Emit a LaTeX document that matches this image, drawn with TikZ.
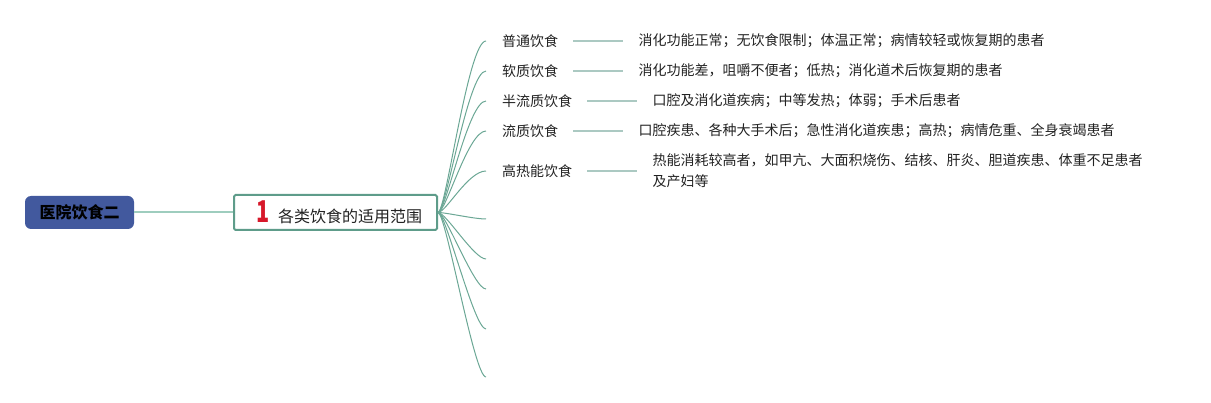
\documentclass[tikz,border=0pt]{standalone}
\usepackage{fontspec}
\setmainfont{Noto Sans CJK SC}
\usepackage{xcolor}
\usepackage{graphicx}
\usetikzlibrary{positioning}
\definecolor{rootblue}{HTML}{42599E}
\definecolor{topicteal}{HTML}{5E9C8A}
\definecolor{branchteal}{HTML}{6BA795}
\definecolor{rootline}{HTML}{9ECDBE}
\definecolor{leafline}{HTML}{ABC9C2}
\definecolor{numred}{HTML}{D7182A}
\definecolor{inktext}{HTML}{222222}

\begin{document}
\begin{tikzpicture}[x=1pt,y=-1pt]
\tikzstyle{rootbox}=[fill=rootblue,rounded corners=6pt,minimum width=109pt,minimum height=33pt,inner sep=0pt,font=\fontsize{16}{18}\selectfont\bfseries,text=black]
\tikzstyle{topicbox}=[draw=topicteal,line width=2pt,fill=white,rounded corners=1.5pt,minimum width=203pt,minimum height=35pt,inner sep=0pt,font=\fontsize{16}{18}\selectfont,text=inktext]
\tikzstyle{dietlabel}=[anchor=west,inner sep=0pt,font=\fontsize{14}{17}\selectfont,text=inktext]
\tikzstyle{dietdesc}=[inner sep=0pt,align=left,font=\fontsize{14}{21}\selectfont,text=inktext]
\tikzstyle{branch}=[draw=branchteal,line width=1pt]
\tikzstyle{leaf}=[draw=leafline,line width=1.6pt]
\newcommand{\dietbranch}[4]{%
\coordinate (e#1) at (486,#2);
\draw[branch] (topic.east) .. controls +(8,0) and +(-18,0) .. (e#1);
\node[dietlabel] (l#1) at (502,#2) {#3};
\node[dietdesc,right=80pt of l#1.east,anchor=west] (d#1) {#4};
\draw[leaf] ([xshift=15pt]l#1.east) -- ([xshift=-15pt]d#1.west);
}
\useasboundingbox (0,0) rectangle (1211,403);
% root and topic
\node[rootbox] (root) at (79.5,212.5) {医院饮食二};
\node[topicbox] (topic) at (335.5,212.5) {\hspace*{8pt}\textcolor{numred}{\scalebox{0.72}[1]{\fontsize{30}{30}\selectfont\bfseries 1}}\hspace{8pt}各类饮食的适用范围};
\draw[rootline,line width=2pt] (root.east) -- (topic.west);
% diets
\dietbranch{1}{41}{普通饮食}{消化功能正常；无饮食限制；体温正常；病情较轻或恢复期的患者}
\dietbranch{2}{71}{软质饮食}{消化功能差，咀嚼不便者；低热；消化道术后恢复期的患者}
\dietbranch{3}{101}{半流质饮食}{口腔及消化道疾病；中等发热；体弱；手术后患者}
\dietbranch{4}{131}{流质饮食}{口腔疾患、各种大手术后；急性消化道疾患；高热；病情危重、全身衰竭患者}
\dietbranch{5}{171}{高热能饮食}{热能消耗较高者，如甲亢、大面积烧伤、结核、肝炎、胆道疾患、体重不足患者\\及产妇等}
% empty branches
\foreach \n/\y in {6/219,7/259,8/289,9/329,10/377}{
\coordinate (e\n) at (486,\y);
\draw[branch] (topic.east) .. controls +(8,0) and +(-12,0) .. (e\n);
}
\end{tikzpicture}
\end{document}
